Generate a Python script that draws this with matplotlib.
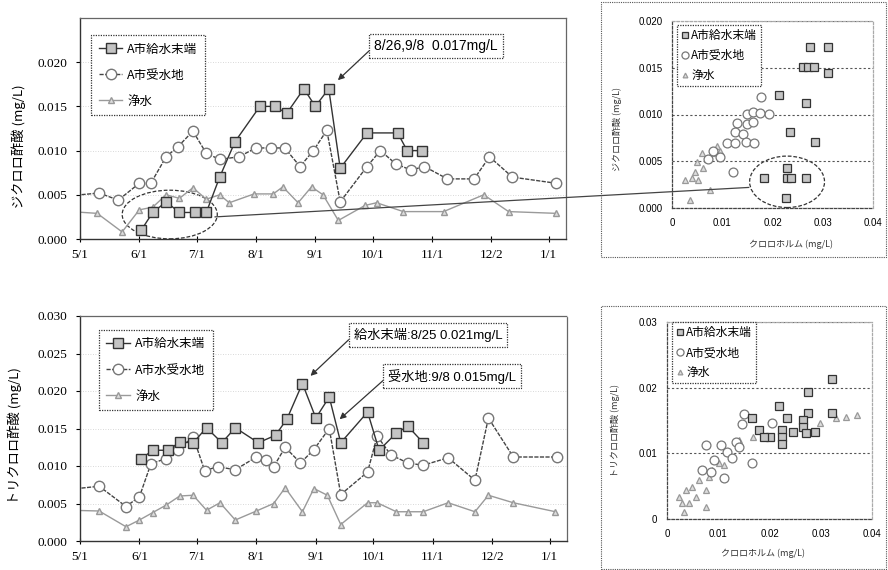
import matplotlib
matplotlib.use('Agg')
import matplotlib.pyplot as plt
from matplotlib.patches import Ellipse, Rectangle, ConnectionPatch
from matplotlib.ticker import FormatStrFormatter
import pandas as pd

plt.rcParams['font.family'] = ['Noto Sans CJK JP', 'DejaVu Sans']

W, H = 888, 570

# --- ジクロロ酢酸 (上段) ---
dca_end_dates = ['6/2', '6/8', '6/15', '6/22', '6/30', '7/6', '7/13', '7/21', '8/3', '8/11',
                 '8/17', '8/26', '9/1', '9/8', '9/14', '9/28', '10/14', '10/19', '10/27']
dca_end = [0.0010, 0.0030, 0.0042, 0.0030, 0.0030, 0.0030, 0.0070, 0.0110, 0.0150, 0.0150,
           0.0142, 0.0170, 0.0150, 0.0170, 0.0080, 0.0120, 0.0120, 0.0100, 0.0100]

dca_recv_dates = ['4/26', '5/11', '5/21', '6/1', '6/7', '6/15', '6/21', '6/29', '7/6', '7/13',
                  '7/23', '8/1', '8/9', '8/16', '8/24', '8/31', '9/7', '9/14', '9/28', '10/5',
                  '10/13', '10/21', '10/28', '11/9', '11/23', '12/1', '12/13', '1/5']
dca_recv = [0.0049, 0.0052, 0.0044, 0.0063, 0.0063, 0.0093, 0.0104, 0.0122, 0.0097, 0.0090,
            0.0093, 0.0103, 0.0103, 0.0103, 0.0082, 0.0100, 0.0123, 0.0042, 0.0082, 0.0100,
            0.0085, 0.0078, 0.0082, 0.0068, 0.0068, 0.0093, 0.0070, 0.0063]

dca_pure_dates = ['4/26', '5/10', '5/23', '6/1', '6/8', '6/15', '6/22', '6/29', '7/6', '7/13',
                  '7/18', '7/31', '8/10', '8/15', '8/23', '8/30', '9/5', '9/13', '9/27', '10/3',
                  '10/17', '11/7', '11/28', '12/11', '1/5']
dca_pure = [0.0031, 0.0029, 0.0008, 0.0033, 0.0036, 0.0050, 0.0046, 0.0058, 0.0045, 0.0050,
            0.0041, 0.0051, 0.0051, 0.0059, 0.0041, 0.0059, 0.0050, 0.0021, 0.0038, 0.0041,
            0.0031, 0.0031, 0.0050, 0.0031, 0.0029]

# --- トリクロロ酢酸 (下段) ---
tca_end_dates = ['6/2', '6/8', '6/16', '6/22', '6/29', '7/6', '7/14', '7/21', '8/2', '8/11',
                 '8/17', '8/25', '9/1', '9/8', '9/14', '9/28', '10/4', '10/13', '10/19', '10/27']
tca_end = [0.0110, 0.0121, 0.0121, 0.0132, 0.0131, 0.0151, 0.0131, 0.0151, 0.0131, 0.0141,
           0.0163, 0.0210, 0.0164, 0.0192, 0.0131, 0.0172, 0.0121, 0.0144, 0.0153, 0.0131]

tca_recv_dates = ['4/26', '5/11', '5/25', '6/1', '6/7', '6/15', '6/21', '6/29', '7/5', '7/12',
                  '7/21', '8/1', '8/6', '8/10', '8/16', '8/24', '8/31', '9/8', '9/14', '9/28',
                  '10/3', '10/10', '10/19', '10/27', '11/9', '11/23', '11/30', '12/13', '1/5']
tca_recv = [0.0069, 0.0073, 0.0046, 0.0059, 0.0103, 0.0110, 0.0121, 0.0139, 0.0094, 0.0099,
            0.0095, 0.0112, 0.0108, 0.0099, 0.0125, 0.0104, 0.0122, 0.0150, 0.0062, 0.0092,
            0.0140, 0.0115, 0.0104, 0.0101, 0.0111, 0.0081, 0.0164, 0.0112, 0.0112]

tca_pure_dates = ['4/26', '5/11', '5/25', '6/1', '6/8', '6/15', '6/22', '6/29', '7/6', '7/13',
                  '7/21', '8/1', '8/10', '8/16', '8/25', '8/31', '9/7', '9/14', '9/28', '10/3',
                  '10/13', '10/19', '10/27', '11/9', '11/23', '11/30', '12/13', '1/4']
tca_pure = [0.0041, 0.0040, 0.0019, 0.0028, 0.0038, 0.0048, 0.0060, 0.0061, 0.0041, 0.0051,
            0.0028, 0.0040, 0.0050, 0.0071, 0.0039, 0.0070, 0.0061, 0.0022, 0.0051, 0.0051,
            0.0039, 0.0039, 0.0039, 0.0051, 0.0039, 0.0061, 0.0051, 0.0039]

# --- クロロホルムとの相関 ---
sc1_end_x = [0.0275, 0.0310, 0.0260, 0.0270, 0.0283, 0.0310, 0.0213, 0.0267, 0.0235, 0.0285,
             0.0183, 0.0229, 0.0229, 0.0237, 0.0267, 0.0227]
sc1_end_y = [0.0172, 0.0172, 0.0151, 0.0151, 0.0151, 0.0144, 0.0121, 0.0112, 0.0081, 0.0071,
             0.0032, 0.0043, 0.0032, 0.0032, 0.0032, 0.0011]
sc1_recv_x = [0.0177, 0.0193, 0.0149, 0.0161, 0.0175, 0.0129, 0.0149, 0.0161, 0.0125, 0.0141,
              0.0109, 0.0125, 0.0147, 0.0163, 0.0121, 0.0096, 0.0082, 0.0072]
sc1_recv_y = [0.0119, 0.0101, 0.0101, 0.0103, 0.0102, 0.0091, 0.0090, 0.0092, 0.0081, 0.0079,
              0.0070, 0.0070, 0.0071, 0.0070, 0.0039, 0.0055, 0.0061, 0.0052]
sc1_pure_x = [0.0036, 0.0026, 0.0040, 0.0052, 0.0046, 0.0062, 0.0070, 0.0080, 0.0090, 0.0060,
              0.0076, 0.0050, 0.0096]
sc1_pure_y = [0.0009, 0.0030, 0.0032, 0.0030, 0.0039, 0.0043, 0.0052, 0.0059, 0.0066, 0.0059,
              0.0019, 0.0049, 0.0061]

sc2_end_x = [0.0322, 0.0275, 0.0218, 0.0165, 0.0235, 0.0275, 0.0322, 0.0180, 0.0200, 0.0224,
             0.0224, 0.0224, 0.0245, 0.0265, 0.0265, 0.0271, 0.0288, 0.0190]
sc2_end_y = [0.0213, 0.0193, 0.0172, 0.0154, 0.0154, 0.0161, 0.0161, 0.0135, 0.0125, 0.0135,
             0.0125, 0.0114, 0.0132, 0.0151, 0.0140, 0.0131, 0.0132, 0.0125]
sc2_recv_x = [0.0151, 0.0147, 0.0204, 0.0076, 0.0106, 0.0135, 0.0141, 0.0118, 0.0165, 0.0069,
              0.0086, 0.0112, 0.0092, 0.0127]
sc2_recv_y = [0.0160, 0.0145, 0.0146, 0.0113, 0.0113, 0.0117, 0.0110, 0.0102, 0.0085, 0.0075,
              0.0072, 0.0062, 0.0090, 0.0093]
sc2_pure_x = [0.0033, 0.0024, 0.0037, 0.0049, 0.0063, 0.0082, 0.0076, 0.0057, 0.0043, 0.0088,
              0.0102, 0.0125, 0.0141, 0.0167, 0.0076, 0.0029, 0.0112, 0.0298, 0.0330, 0.0350,
              0.0370]
sc2_pure_y = [0.0011, 0.0034, 0.0044, 0.0049, 0.0059, 0.0064, 0.0044, 0.0034, 0.0024, 0.0075,
              0.0085, 0.0095, 0.0120, 0.0125, 0.0018, 0.0024, 0.0082, 0.0146, 0.0154, 0.0156,
              0.0158]

month_ticks = ['5/1', '6/1', '7/1', '8/1', '9/1', '10/1', '11/1', '12/2', '1/1']


def to_day(md):
    m, d = (int(s) for s in md.split('/'))
    year = 2006 if m < 4 else 2005
    return (pd.Timestamp(year, m, d) - pd.Timestamp(2005, 5, 1)).days


st_end = dict(marker='s', ms=7, mfc='#c4c4c4', mec='#333333', color='#333333', lw=1.0)
st_recv = dict(marker='o', ms=7.5, mfc='white', mec='#777777', color='#444444', lw=1.0,
               ls=(0, (3, 1)))
st_pure = dict(marker='^', ms=5, mfc='#dddddd', mec='#999999', color='#9a9a9a', lw=1.0)

fig = plt.figure(figsize=(W / 100, H / 100), dpi=100)


def px_axes(l, t, r, b):
    return fig.add_axes([l / W, 1 - b / H, (r - l) / W, (b - t) / H])


def style_frame(ax):
    for k in ('left', 'bottom'):
        ax.spines[k].set_color('#333333')
        ax.spines[k].set_linewidth(1.0)
    for k in ('top', 'right'):
        ax.spines[k].set_color('#666666')
        ax.spines[k].set_linestyle((0, (1, 1)))
        ax.spines[k].set_linewidth(0.9)


def line_panel(ax, series, ymax, yticks, label, legend_anchor, label_xy):
    for dates, vals, st, name in series:
        ax.plot([to_day(d) for d in dates], vals, label=name, **st)
    ax.set_xlim(0, 254)
    ax.set_ylim(0, ymax)
    ax.set_xticks([to_day(t) for t in month_ticks])
    ax.set_xticklabels(month_ticks)
    ax.set_yticks(yticks)
    ax.yaxis.set_major_formatter(FormatStrFormatter('%.3f'))
    ax.tick_params(axis='x', direction='inout', length=5, width=0.8, pad=5,
                   labelsize=9.5, labelfontfamily='Liberation Serif')
    ax.tick_params(axis='y', direction='out', length=3, width=0.8, pad=6,
                   labelsize=9.5, labelfontfamily='Liberation Serif')
    ax.yaxis.grid(True, color='#cccccc', lw=0.6, ls=(0, (1, 2)))
    style_frame(ax)
    ax.set_ylabel(label, fontsize=9.5)
    ax.yaxis.set_label_coords(*label_xy)
    # 凡例は線+マーカー (□/○/△ の順)
    h, l = ax.get_legend_handles_labels()
    order = [2, 1, 0]
    leg = ax.legend([h[i] for i in order], [l[i] for i in order], loc='upper left',
                    bbox_to_anchor=legend_anchor, borderaxespad=0, fontsize=9,
                    labelspacing=1.05, handlelength=1.9, handletextpad=0.4,
                    borderpad=0.6, fancybox=False, framealpha=1)
    leg.get_frame().set_edgecolor('#333333')
    leg.get_frame().set_linestyle((0, (1, 1)))
    leg.get_frame().set_linewidth(0.9)


def scatter_panel(ax, groups, ymax, yticks, ylabels, label, legend_anchor, ylab_xy, xlab_xy):
    for xs, ys, st, name in groups:
        ax.plot(xs, ys, ls='none', label=name, marker=st['marker'], ms=st['ms'] * 0.85,
                mfc=st['mfc'], mec=st['mec'], mew=0.9)
    ax.set_xlim(0, 0.04)
    ax.set_ylim(0, ymax)
    ax.set_xticks([0, 0.01, 0.02, 0.03, 0.04])
    ax.set_xticklabels(['0', '0.01', '0.02', '0.03', '0.04'])
    ax.set_yticks(yticks)
    ax.set_yticklabels(ylabels)
    ax.tick_params(length=0, pad=7, labelsize=7, labelfontfamily='Liberation Sans')
    ax.yaxis.grid(True, color='#555555', lw=0.8, ls=(0, (2, 2)))
    for sp in ax.spines.values():
        sp.set_linestyle((0, (2, 1.5)))
        sp.set_color('#444444')
        sp.set_linewidth(0.9)
    ax.spines['top'].set_color('#aaaaaa')
    ax.spines['right'].set_color('#aaaaaa')
    ax.set_ylabel(label, fontsize=6.5, color='#333333')
    ax.yaxis.set_label_coords(*ylab_xy)
    ax.set_xlabel('クロロホルム (mg/L)', fontsize=6.5, color='#333333')
    ax.xaxis.set_label_coords(*xlab_xy)
    h, l = ax.get_legend_handles_labels()
    order = [2, 1, 0]
    leg = ax.legend([h[i] for i in order], [l[i] for i in order], loc='upper left',
                    bbox_to_anchor=legend_anchor, borderaxespad=0, fontsize=8.5,
                    labelspacing=0.6, handlelength=0.6, handletextpad=0.25,
                    borderpad=0.35, fancybox=False, framealpha=1, markerscale=0.8)
    leg.get_frame().set_edgecolor('#333333')
    leg.get_frame().set_linestyle((0, (1, 1)))
    leg.get_frame().set_linewidth(0.9)


# 上段: ジクロロ酢酸の推移
ax1 = px_axes(80, 18, 566, 239)
line_panel(ax1,
           [(dca_pure_dates, dca_pure, st_pure, '浄水'),
            (dca_recv_dates, dca_recv, st_recv, 'A市受水地'),
            (dca_end_dates, dca_end, st_end, 'A市給水末端')],
           0.025, [0, 0.005, 0.010, 0.015, 0.020],
           'ジクロロ酢酸 (mg/L)', (0.023, 0.923), (-0.112, 0.42))

# 下段: トリクロロ酢酸の推移
ax2 = px_axes(80, 316, 567, 541)
line_panel(ax2,
           [(tca_pure_dates, tca_pure, st_pure, '浄水'),
            (tca_recv_dates, tca_recv, st_recv, 'A市水受水地'),
            (tca_end_dates, tca_end, st_end, 'A市給水末端')],
           0.030, [0, 0.005, 0.010, 0.015, 0.020, 0.025, 0.030],
           'トリクロロ酢酸 (mg/L)', (0.039, 0.938), (-0.12, 0.47))

box = dict(boxstyle='square,pad=0.35', fc='white', ec='#333333', ls=(0, (1, 1)), lw=0.9)
arrow = dict(arrowstyle='-|>', color='#333333', lw=0.9, relpos=(0, 0.5), shrinkA=0,
             mutation_scale=9)
ann_font = ['Liberation Sans', 'Noto Sans CJK JP']

ax1.annotate('8/26,9/8  0.017mg/L', xy=(to_day('9/8'), 0.017), xytext=(0.7325, 0.873),
             textcoords='axes fraction', ha='center', va='center', fontsize=10,
             family=ann_font, bbox=box, arrowprops=dict(arrow, shrinkB=9))
ax2.annotate('給水末端:8/25 0.021mg/L', xy=(to_day('8/25'), 0.021), xytext=(0.7146, 0.9156),
             textcoords='axes fraction', ha='center', va='center', fontsize=9.5,
             family=ann_font, bbox=box, arrowprops=dict(arrow, shrinkB=8))
ax2.annotate('受水地:9/8 0.015mg/L', xy=(to_day('9/8'), 0.015), xytext=(0.764, 0.733),
             textcoords='axes fraction', ha='center', va='center', fontsize=9.5,
             family=ann_font, bbox=box, arrowprops=dict(arrow, shrinkB=10))

# 右側: クロロホルムとの散布図
for l, t, r, b in [(601, 2, 886, 257), (601, 306, 886, 569)]:
    fig.patches.append(Rectangle((l / W, 1 - b / H), (r - l) / W, (b - t) / H,
                                 transform=fig.transFigure, fill=False, ec='#555555',
                                 lw=0.8, ls=(0, (1, 1))))

ax3 = px_axes(672, 21, 873, 208)
scatter_panel(ax3,
              [(sc1_pure_x, sc1_pure_y, st_pure, '浄水'),
               (sc1_recv_x, sc1_recv_y, st_recv, 'A市受水地'),
               (sc1_end_x, sc1_end_y, st_end, 'A市給水末端')],
              0.020, [0, 0.005, 0.010, 0.015, 0.020],
              ['0.000', '0.005', '0.010', '0.015', '0.020'],
              'ジクロロ酢酸 (mg/L)', (0.025, 0.979), (-0.25, 0.42), (0.59, -0.17))

ax4 = px_axes(667, 322, 872, 519)
scatter_panel(ax4,
              [(sc2_pure_x, sc2_pure_y, st_pure, '浄水'),
               (sc2_recv_x, sc2_recv_y, st_recv, 'A市受水地'),
               (sc2_end_x, sc2_end_y, st_end, 'A市給水末端')],
              0.030, [0, 0.01, 0.02, 0.03], ['0', '0.01', '0.02', '0.03'],
              'トリクロロ酢酸 (mg/L)', (0.025, 1.0), (-0.23, 0.45), (0.47, -0.15))

# 低濃度の集団を囲み、散布図側の同じ集団と結ぶ
ax1.add_patch(Ellipse((46.9, 0.00277), 49.7, 0.0055, fill=False, ec='#333333', lw=0.9,
                      ls=(0, (3, 1.5)), clip_on=False))
ax3.add_patch(Ellipse((0.0229, 0.0028), 0.0149, 0.0055, fill=False, ec='#333333', lw=0.9,
                      ls=(0, (3, 1.5)), clip_on=False))
fig.add_artist(ConnectionPatch(xyA=(70.5, 0.0025), coordsA=ax1.transData,
                               xyB=(0.0153, 0.0022), coordsB=ax3.transData,
                               color='#444444', lw=0.9))

fig.savefig('out.png', dpi=100)
